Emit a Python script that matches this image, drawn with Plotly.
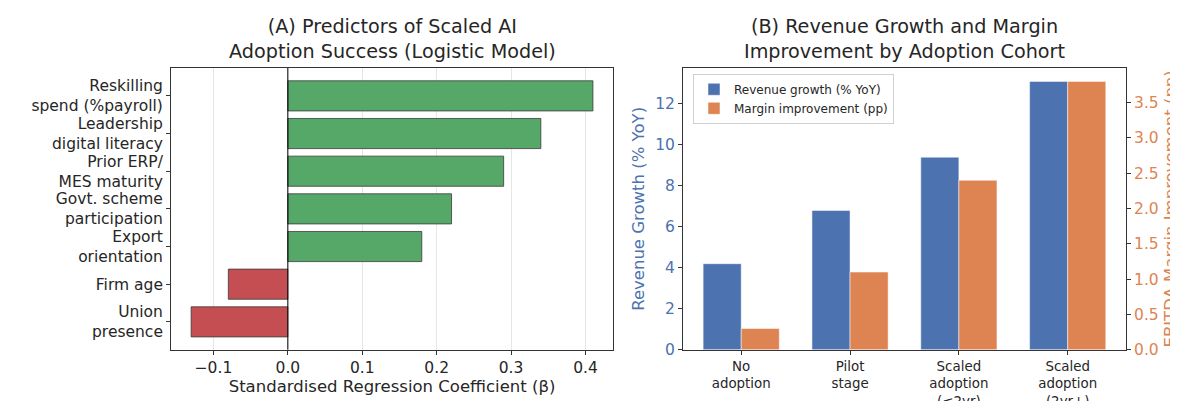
import plotly.graph_objects as go

# Panel A data
predictors = ["Reskilling<br>spend (%payroll)", "Leadership<br>digital literacy", "Prior ERP/<br>MES maturity",
              "Govt. scheme<br>participation", "Export<br>orientation", "Firm age", "Union<br>presence"]
coefs = [0.41, 0.34, 0.29, 0.22, 0.18, -0.08, -0.13]
x_ticks_a = [-0.1, 0.0, 0.1, 0.2, 0.3, 0.4]
x_tick_labels_a = ["−0.1", "0.0", "0.1", "0.2", "0.3", "0.4"]

# Panel B data
cohorts = ["No<br>adoption", "Pilot<br>stage", "Scaled<br>adoption<br>(≤2yr)", "Scaled<br>adoption<br>(2yr+)"]
revenue_growth = [4.2, 6.8, 9.4, 13.1]
margin_improvement = [0.3, 1.1, 2.4, 3.8]

GREEN = "#55a868"
RED = "#c44e52"
BLUE = "#4c72b0"
ORANGE = "#dd8452"
TXT = "#262626"
FONT = "DejaVu Sans"
TICK = 15.5
LABEL = 16.5

fig = go.Figure()

fig.add_trace(go.Bar(
    x=coefs, y=predictors, orientation="h",
    marker=dict(color=[GREEN if c > 0 else RED for c in coefs],
                line=dict(color="#3a3a3a", width=0.8)),
    width=0.8, xaxis="x", yaxis="y", showlegend=False))

fig.add_trace(go.Bar(
    x=cohorts, y=revenue_growth, name="Revenue growth (% YoY)",
    marker=dict(color=BLUE, line=dict(color="white", width=0.5)),
    width=0.35, offset=-0.35, xaxis="x2", yaxis="y2"))
fig.add_trace(go.Bar(
    x=cohorts, y=margin_improvement, name="Margin improvement (pp)",
    marker=dict(color=ORANGE, line=dict(color="white", width=0.5)),
    width=0.35, offset=0.0, xaxis="x2", yaxis="y3"))

axis_common = dict(showline=True, linecolor="#333333", linewidth=1, mirror=True,
                   ticks="outside", ticklen=4, tickcolor="#333333",
                   tickfont=dict(size=TICK, color=TXT, family=FONT), zeroline=False)

fig.update_layout(
    width=1178, height=401,
    margin=dict(l=0, r=0, t=0, b=0),
    paper_bgcolor="white", plot_bgcolor="white",
    font=dict(family=FONT, color=TXT),
    barmode="overlay",
    xaxis=dict(domain=[0.1384, 0.5136], range=[-0.157, 0.437],
               tickvals=x_ticks_a, ticktext=x_tick_labels_a,
               showgrid=True, gridcolor="#e6e6e6", gridwidth=1,
               title=dict(text="Standardised Regression Coefficient (β)",
                          font=dict(size=LABEL, color=TXT), standoff=4),
               anchor="y", **axis_common),
    yaxis=dict(domain=[0.117, 0.845], type="category", categoryarray=predictors,
               range=[6.74, -0.74], showgrid=False, anchor="x", **axis_common),
    xaxis2=dict(domain=[0.573, 0.949], type="category", categoryarray=cohorts,
                range=[-0.535, 3.535], showgrid=False, anchor="y2",
                **{**axis_common, "tickfont": dict(size=13.4, color=TXT, family=FONT)}),
    yaxis2=dict(domain=[0.117, 0.845], range=[0, 13.755], dtick=2, showgrid=False,
                anchor="x2",
                title=dict(text="Revenue Growth (% YoY)", font=dict(size=LABEL, color=BLUE), standoff=6),
                **{**axis_common, "tickfont": dict(size=TICK, color=BLUE, family=FONT)}),
    yaxis3=dict(range=[0, 3.99], dtick=0.5, tickformat=".1f", showgrid=False,
                overlaying="y2", side="right", anchor="x2",
                title=dict(text="EBITDA Margin Improvement (pp)", font=dict(size=LABEL, color=ORANGE), standoff=6),
                **{**axis_common, "mirror": False, "tickfont": dict(size=TICK, color=ORANGE, family=FONT)}),
    legend=dict(x=0.5815, y=0.830, xanchor="left", yanchor="top",
                bgcolor="rgba(255,255,255,0.85)", bordercolor="#d0d0d0", borderwidth=1,
                font=dict(size=12, color=TXT), tracegroupgap=0, itemwidth=30),
    shapes=[dict(type="line", xref="x", yref="y domain", x0=0, x1=0, y0=0, y1=1,
                 line=dict(color="black", width=1))],
    annotations=[
        dict(text="(A) Predictors of Scaled AI<br>Adoption Success (Logistic Model)",
             x=0.326, y=1 - 5 / 401, xref="paper", yref="paper", xanchor="center", yanchor="top",
             showarrow=False, font=dict(size=19.2, color=TXT)),
        dict(text="(B) Revenue Growth and Margin<br>Improvement by Adoption Cohort",
             x=0.761, y=1 - 5 / 401, xref="paper", yref="paper", xanchor="center", yanchor="top",
             showarrow=False, font=dict(size=19.2, color=TXT)),
    ],
)

fig.write_html("out.html")
